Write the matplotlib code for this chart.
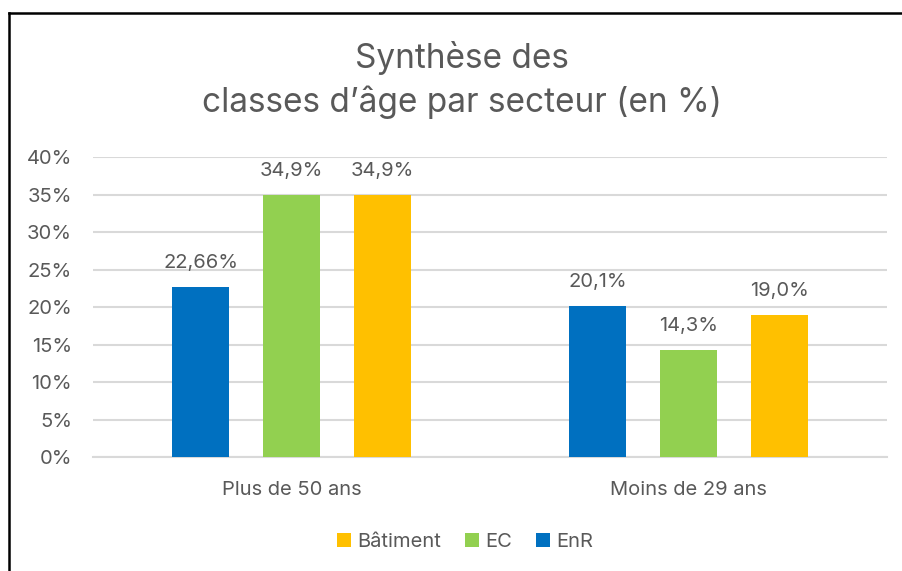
import matplotlib.pyplot as plt
import numpy as np
from matplotlib.lines import Line2D

categories = ['Plus de 50 ans', 'Moins de 29 ans']
series = ['EnR', 'EC', 'Bâtiment']
enr = [22.66, 20.1]
ec = [34.9, 14.3]
batiment = [34.9, 19.0]
labels = [['22,66%', '20,1%'], ['34,9%', '14,3%'], ['34,9%', '19,0%']]
colors = ['#0070C0', '#92D050', '#FFC000']

plt.rcParams['font.family'] = ['Inter', 'DejaVu Sans']
grey = '#595959'

fig = plt.figure(figsize=(9.03, 5.71), dpi=100)
ax = fig.add_axes([0.103, 0.1996, 0.879, 0.5254])

x = np.arange(len(categories))
width = 0.143
step = 0.229
for i, (vals, col) in enumerate(zip([enr, ec, batiment], colors)):
    pos = x + (i - 1) * step
    ax.bar(pos, vals, width, color=col, label=series[i], zorder=3)
    for p, v, t in zip(pos, vals, labels[i]):
        ax.text(p, v + 2.0, t, ha='center', va='bottom', fontsize=14.5, color=grey)

ax.set_xlim(-0.5, 1.5)
ax.set_ylim(0, 40)
ax.set_yticks(range(0, 41, 5))
ax.set_yticklabels([f'{v}%' for v in range(0, 41, 5)])
ax.yaxis.grid(True, color='#D9D9D9', linewidth=1.5, zorder=0)
ax.set_xticks(x)
ax.set_xticklabels(categories)
ax.tick_params(axis='both', length=0, labelsize=14.5, labelcolor=grey)
ax.tick_params(axis='x', pad=17)
ax.tick_params(axis='y', pad=15)
for s in ['top', 'right', 'left']:
    ax.spines[s].set_visible(False)
ax.spines['bottom'].set_color('#D9D9D9')
ax.spines['bottom'].set_linewidth(1.5)

fig.text(0.512, 0.86, 'Synthèse des\nclasses d\u2019âge par secteur (en %)', ha='center', va='center',
         fontsize=24, color=grey, linespacing=1.4)

h, l = ax.get_legend_handles_labels()
fig.legend(h[::-1], l[::-1], loc='center', bbox_to_anchor=(0.515, 0.05), ncol=3, frameon=False,
           fontsize=14.5, labelcolor=grey, handlelength=0.7, handleheight=0.7, handletextpad=0.3,
           columnspacing=1.2)

# frame of the chart area (only top and left edges are visible in the crop)
bx = 9 / 903
by = 1 - 13 / 571
fig.add_artist(Line2D([bx, bx], [-0.05, by], transform=fig.transFigure, color='black',
                      linewidth=1.8, clip_on=False))
fig.add_artist(Line2D([bx, 1.05], [by, by], transform=fig.transFigure, color='black',
                      linewidth=1.8, clip_on=False))

fig.savefig('out.png', dpi=100)
